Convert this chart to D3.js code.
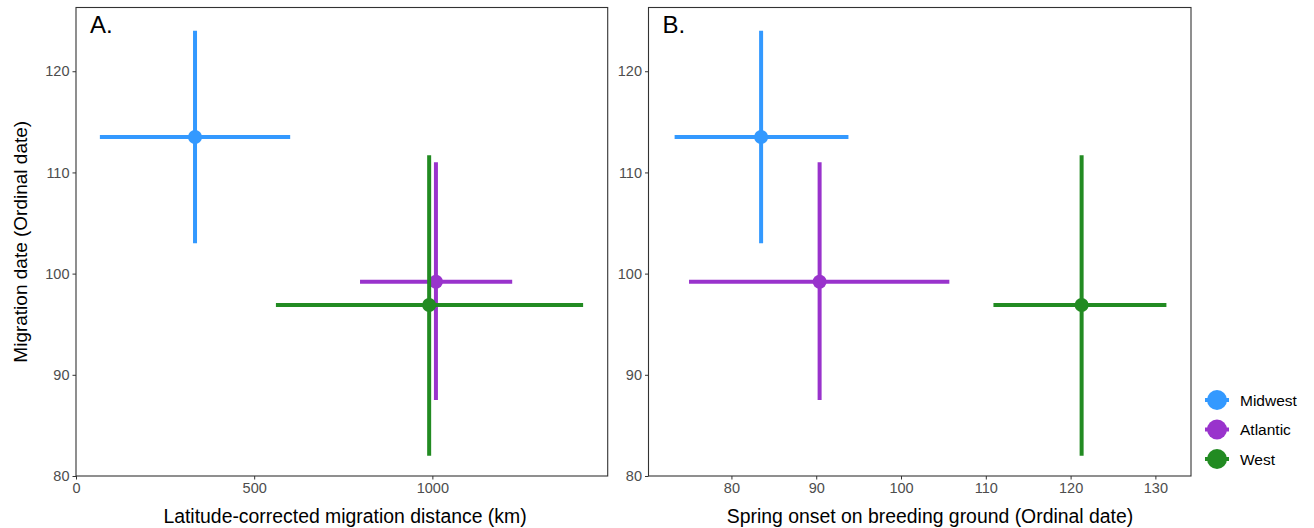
<!DOCTYPE html>
<html>
<head>
<meta charset="utf-8">
<script src="https://cdn.jsdelivr.net/npm/d3@7"></script>
<style>
  body { margin: 0; background: #fff; }
  svg { font-family: "Liberation Sans", Arial, sans-serif; }
</style>
</head>
<body>
<svg id="svg" width="1314" height="528"></svg>
<script>
// regions and colours
var regions = ["Midwest", "Atlantic", "West"];
var colors = ["#3399ff", "#9933cc", "#228b22"];

// migration date (y) - mean and range, shared by both panels
var dateMean = [113.5, 99.2, 96.9];
var dateLow  = [103.0, 87.5, 82.0];
var dateHigh = [124.0, 111.0, 111.7];

// panel A: latitude-corrected distance (km)
var distMean = [334, 1010, 991];
var distLow  = [67, 797, 561];
var distHigh = [601, 1224, 1423];

// panel B: spring onset (ordinal date)
var onsetMean = [83.5, 90.4, 121.3];
var onsetLow  = [73.3, 75.0, 110.9];
var onsetHigh = [93.8, 105.7, 131.3];

var yTicks = [80, 90, 100, 110, 120];
var xTicksA = [0, 500, 1000];
var xTicksB = [80, 90, 100, 110, 120, 130];

var svg = d3.select("#svg");
var plotTop = 7.5, plotBottom = 476;

var y = d3.scaleLinear().domain([80, 126.3]).range([plotBottom, plotTop]);

function drawPanel(opt) {
  var x = d3.scaleLinear().domain(opt.domain).range([opt.left, opt.right]);
  var g = svg.append("g");

  // error bars and points
  regions.forEach(function(r, i) {
    var c = colors[i];
    g.append("line")
      .attr("x1", x(opt.low[i])).attr("x2", x(opt.high[i]))
      .attr("y1", y(dateMean[i])).attr("y2", y(dateMean[i]))
      .attr("stroke", c).attr("stroke-width", 4);
    g.append("line")
      .attr("x1", x(opt.mean[i])).attr("x2", x(opt.mean[i]))
      .attr("y1", y(dateLow[i])).attr("y2", y(dateHigh[i]))
      .attr("stroke", c).attr("stroke-width", 4);
    g.append("circle")
      .attr("cx", x(opt.mean[i])).attr("cy", y(dateMean[i]))
      .attr("r", 7).attr("fill", c);
  });

  // panel border
  g.append("rect")
    .attr("x", opt.left).attr("y", plotTop)
    .attr("width", opt.right - opt.left).attr("height", plotBottom - plotTop)
    .attr("fill", "none").attr("stroke", "#333").attr("stroke-width", 1.1);

  var xAxis = g.append("g")
    .attr("transform", "translate(0," + plotBottom + ")")
    .call(d3.axisBottom(x).tickValues(opt.ticks).tickFormat(d3.format("d"))
      .tickSize(3.5).tickPadding(3));
  var yAxis = g.append("g")
    .attr("transform", "translate(" + opt.left + ",0)")
    .call(d3.axisLeft(y).tickValues(yTicks).tickFormat(d3.format("d"))
      .tickSize(3.5).tickPadding(3));
  [xAxis, yAxis].forEach(function(a) {
    a.attr("font-size", null).attr("font-family", null);
    a.select(".domain").remove();
    a.selectAll(".tick line").attr("stroke", "#333");
    a.selectAll(".tick text").attr("fill", "#4d4d4d").style("font-size", "14.5px");
  });

  g.append("text")
    .attr("x", opt.titleX).attr("y", 523)
    .attr("text-anchor", "middle").style("font-size", "19.4px")
    .text(opt.title);

  g.append("text")
    .attr("x", opt.left + 14).attr("y", 33)
    .style("font-size", "24px")
    .text(opt.label);
}

drawPanel({
  left: 76, right: 607.7, domain: [0, 1492],
  mean: distMean, low: distLow, high: distHigh, ticks: xTicksA,
  title: "Latitude-corrected migration distance (km)", label: "A.", titleX: 345
});
drawPanel({
  left: 648.5, right: 1191, domain: [70.22, 134.2],
  mean: onsetMean, low: onsetLow, high: onsetHigh, ticks: xTicksB,
  title: "Spring onset on breeding ground (Ordinal date)", label: "B.", titleX: 930
});

// y axis title
svg.append("text")
  .attr("transform", "translate(27," + ((plotTop + plotBottom) / 2) + ") rotate(-90)")
  .attr("text-anchor", "middle").style("font-size", "19px")
  .text("Migration date (Ordinal date)");

// legend
var legend = svg.append("g");
regions.forEach(function(r, i) {
  var ly = 400 + i * 29.5;
  legend.append("line")
    .attr("x1", 1205).attr("x2", 1229).attr("y1", ly).attr("y2", ly)
    .attr("stroke", colors[i]).attr("stroke-width", 4);
  legend.append("circle")
    .attr("cx", 1217).attr("cy", ly).attr("r", 10).attr("fill", colors[i]);
  legend.append("text")
    .attr("x", 1240).attr("y", ly + 5.5)
    .style("font-size", "15.5px")
    .text(r);
});
</script>
</body>
</html>
